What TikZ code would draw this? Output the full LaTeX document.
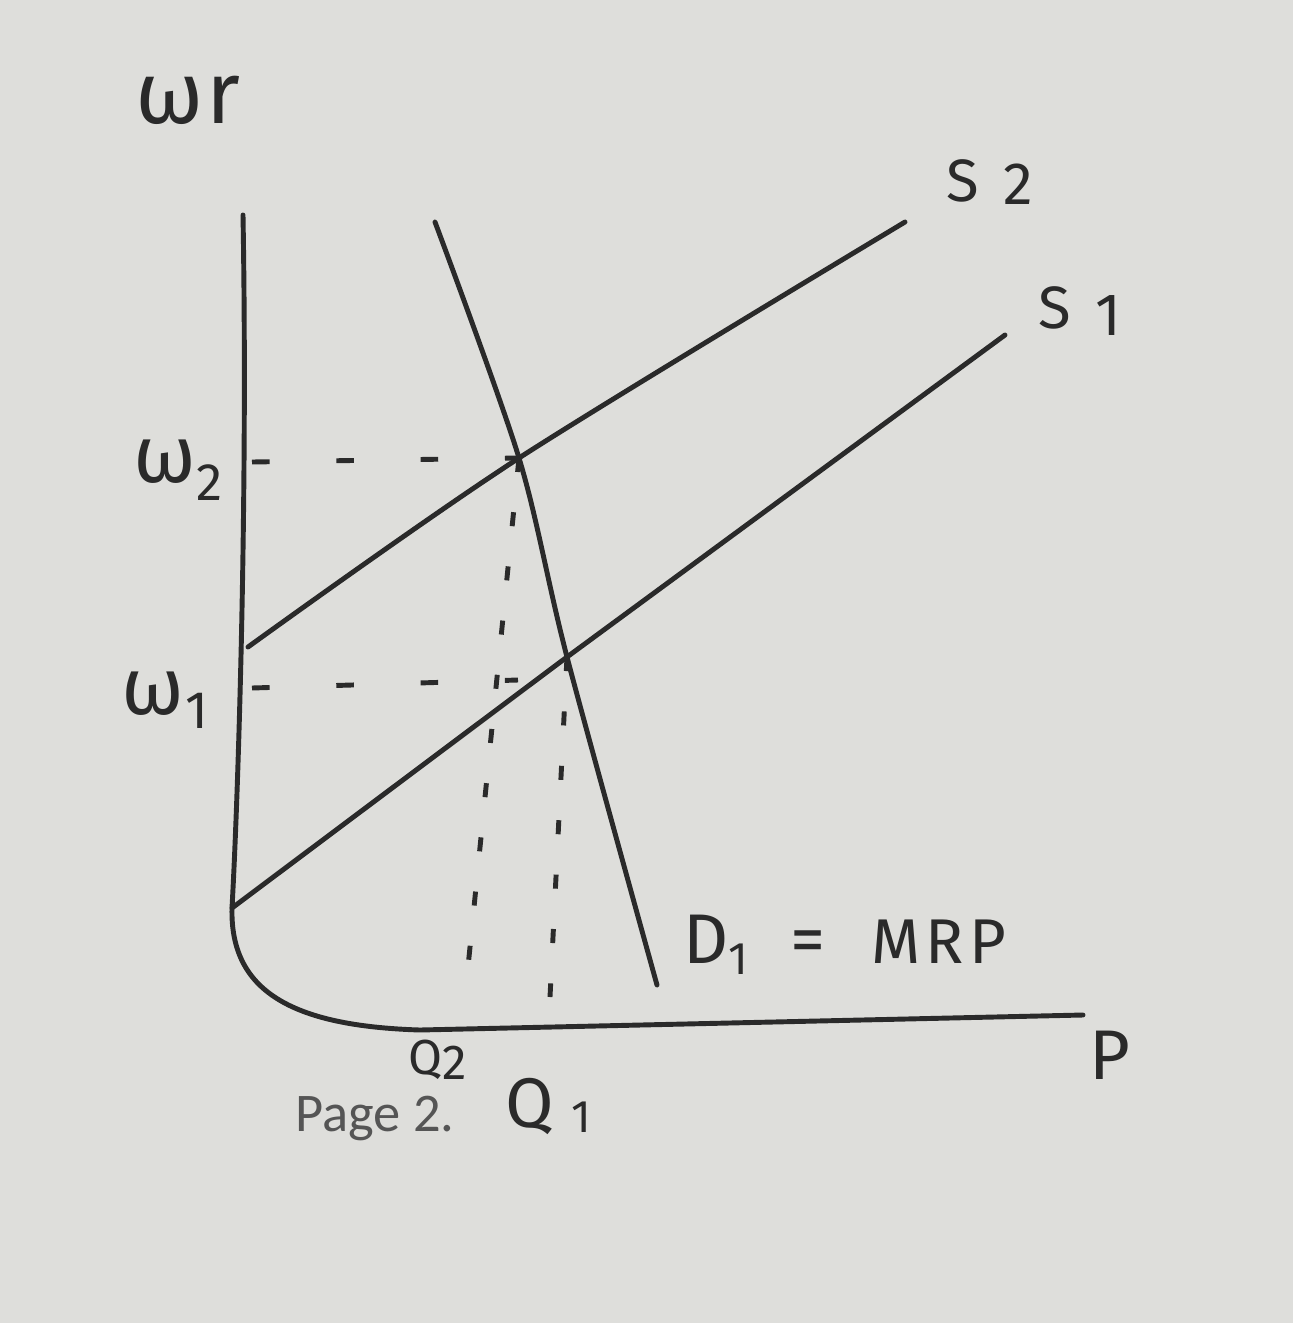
\documentclass[tikz,border=0pt]{standalone}
\usepackage{fontspec}
\setmainfont{Fira Sans}
\newfontfamily\pagefont{Carlito}
\definecolor{paper}{RGB}{222,222,219}
\definecolor{ink}{RGB}{42,42,42}
\definecolor{print}{RGB}{85,85,85}

\begin{document}
\begin{tikzpicture}[
    x=0.02cm,y=-0.02cm,
    curve/.style={ink,line width=2.8pt,line cap=round,line join=round},
    hguide/.style={ink,line width=2.8pt,dash pattern=on 10pt off 38pt},
    vguide/.style={ink,line width=2.8pt,dash pattern=on 8pt off 23pt},
    every node/.style={ink,inner sep=0pt,font=\fontsize{32}{32}\selectfont}
  ]
    \fill[paper] (0,0) rectangle (1293,1323);

    % axes
    \coordinate (ytop) at (243,215);
    \coordinate (ys2)  at (248,647);
    \coordinate (ys1)  at (232,908);
    \coordinate (xend) at (1083,1015);
    \draw[curve] (ytop) .. controls (248,500) and (238,800) .. (ys1)
      .. controls (230,990) and (290,1026) .. (420,1030) -- (xend);

    % supply and demand
    \coordinate (e2)    at (519,458);
    \coordinate (e1)    at (567,657);
    \coordinate (dtop)  at (435,222);
    \coordinate (dbot)  at (657,985);
    \coordinate (s2end) at (905,222);
    \coordinate (s1end) at (1005,335);
    \draw[curve] plot[smooth,tension=0.5] coordinates {(dtop) (e2) (e1) (dbot)};
    \draw[curve] plot[smooth,tension=0.5] coordinates {(ys2) (e2) (s2end)};
    \draw[curve] (ys1) -- (e1) -- (s1end);

    % dashed guides
    \coordinate (w2tick) at (252,462);
    \coordinate (w1tick) at (252,688);
    \coordinate (w1end)  at (518,680);
    \coordinate (q2bot)  at (465,997);
    \coordinate (q1bot)  at (550,997);
    \draw[hguide] (w2tick) -- (e2);
    \draw[hguide] (w1tick) -- (w1end);
    \draw[vguide] (e2) -- (q2bot);
    \draw[vguide] (e1) -- (q1bot);

    % labels
    \node (wr) at (188,100) {\fontsize{50}{50}\selectfont ω\hspace{2pt}r};
    \node (w2) at (178,470) {\fontsize{46}{46}\selectfont ω\raisebox{-10pt}{\fontsize{30}{30}\selectfont 2}};
    \node (w1) at (165,700) {\fontsize{46}{46}\selectfont ω\hspace{1pt}\raisebox{-8pt}{\fontsize{30}{30}\selectfont 1}};
    \node (s2) at (990,182) {\fontsize{34}{34}\selectfont S\hspace{14pt}\raisebox{-2pt}{2}};
    \node (s1) at (1080,311) {\fontsize{34}{34}\selectfont S\hspace{14pt}\raisebox{-4pt}{1}};
    \node[anchor=west] (dlab) at (683,945)
      {\fontsize{40}{40}\selectfont D\raisebox{-6pt}{\fontsize{26}{26}\selectfont 1}\hspace{24pt}=\hspace{26pt}\fontsize{36}{36}\selectfont M\hspace{3pt}R\hspace{3pt}P};
    \node (plab) at (1110,1055) {\fontsize{40}{40}\selectfont P};
    \node[anchor=base west,print] (page) at (295,1131) {\pagefont\fontsize{31}{31}\selectfont Page 2.};
    \node (q2) at (438,1060) {\fontsize{28}{28}\selectfont Q\raisebox{-3pt}{2}};
    \node (q1) at (548,1106) {\fontsize{40}{40}\selectfont Q\hspace{10pt}\raisebox{-3pt}{\fontsize{26}{26}\selectfont 1}};
\end{tikzpicture}
\end{document}
